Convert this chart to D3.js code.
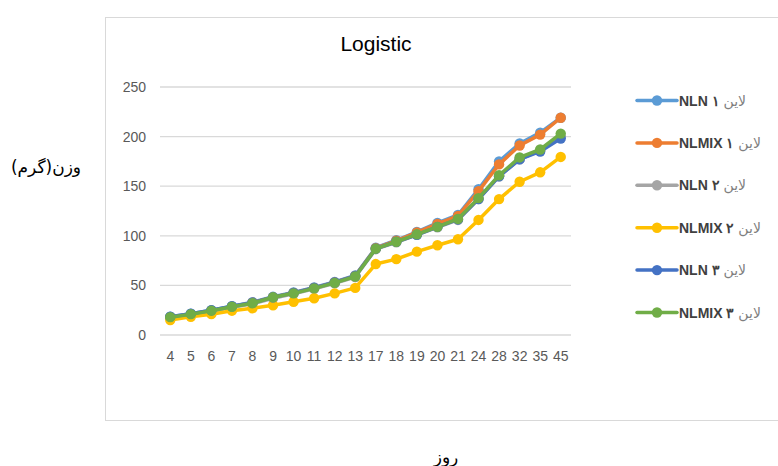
<!DOCTYPE html>
<html>
<head>
<meta charset="utf-8">
<script src="https://cdn.jsdelivr.net/npm/d3@7"></script>
<style>
  body { margin: 0; background: #fff; }
  text { font-family: "Liberation Sans", Arial, sans-serif; }
</style>
</head>
<body>
<div id="chart"></div>
<script>
// days (x categories)
const days = ["4","5","6","7","8","9","10","11","12","13","17","18","19","20","21","24","28","32","35","45"];

// series values
const nln1    = [18.5,21.5,25,29,33,38.5,43,48,53.5,60,88,95.5,104,113,121,147,175,193,204,219];
const nlmix1  = [18,21,24.5,28.5,32.5,38,42.5,47.5,53,59.5,87.5,95,103.5,112,120,145,172,191,202,219];
const nln2    = [17.5,20.5,24,28,31.5,37,41.5,46.5,52,58.5,86.5,93.5,101,108.5,116,137,160,177,186,200];
const nlmix2  = [15,18.4,21,24.5,27,30,33.5,37,42,47.5,71.5,76.5,84,90.5,96.5,116,137,154.5,164,179.5];
const nln3    = [18.5,21.5,25,29,32.5,38,42.5,47.5,53,59.5,87,94,101,109,116.5,137,160,177,185,198];
const nlmix3  = [18,21,24.5,28.5,32,38,42,47,52.5,59,87,94,101.5,109,117,138,161,179,187,203];

const seriesNames = ["NLN ۱  ", "NLMIX ۱ ", "NLN  ۲ ", "NLMIX ۲ ", "NLN ۳ ", "NLMIX ۳ "];
const seriesValues = [nln1, nlmix1, nln2, nlmix2, nln3, nlmix3];
const colors = ["#5B9BD5", "#ED7D31", "#A5A5A5", "#FFC000", "#4472C4", "#70AD47"];
const yTicks = [0, 50, 100, 150, 200, 250];

const width = 778, height = 466;
const plot = { left: 160, right: 571, top: 87, bottom: 335 };

const svg = d3.select("#chart").append("svg")
  .attr("width", width)
  .attr("height", height);

// chart frame
svg.append("rect")
  .attr("x", 105.5).attr("y", 17.5)
  .attr("width", 700).attr("height", 403)
  .attr("fill", "none")
  .attr("stroke", "#d9d9d9");

const x = d3.scaleBand().domain(days).range([plot.left, plot.right]);
const y = d3.scaleLinear().domain([0, 250]).range([plot.bottom, plot.top]);

// gridlines
svg.append("g")
  .selectAll("line")
  .data(yTicks)
  .enter().append("line")
  .attr("x1", plot.left).attr("x2", plot.right)
  .attr("y1", d => y(d)).attr("y2", d => y(d))
  .attr("stroke", "#d9d9d9")
  .attr("stroke-width", 1.3);

// y axis labels
const yAxis = svg.append("g")
  .attr("transform", `translate(${plot.left - 14},0)`)
  .call(d3.axisLeft(y).tickValues(yTicks).tickSize(0).tickPadding(0));
yAxis.select(".domain").remove();
yAxis.selectAll("text")
  .attr("fill", "#595959")
  .style("font-size", "14px");

// x axis labels
const xAxis = svg.append("g")
  .attr("transform", `translate(0,${plot.bottom + 16})`)
  .call(d3.axisBottom(x).tickSize(0).tickPadding(0));
xAxis.select(".domain").remove();
xAxis.selectAll("text")
  .attr("fill", "#595959")
  .style("font-size", "14px");

// lines and markers
const line = d3.line()
  .x((d, i) => x(days[i]) + x.bandwidth() / 2)
  .y(d => y(d));

seriesValues.forEach((vals, s) => {
  const g = svg.append("g");
  g.append("path")
    .datum(vals)
    .attr("fill", "none")
    .attr("stroke", colors[s])
    .attr("stroke-width", 3.5)
    .attr("stroke-linejoin", "round")
    .attr("d", line);
  g.selectAll("circle")
    .data(vals)
    .enter().append("circle")
    .attr("cx", (d, i) => x(days[i]) + x.bandwidth() / 2)
    .attr("cy", d => y(d))
    .attr("r", 5.2)
    .attr("fill", colors[s]);
});

// title
svg.append("text")
  .attr("x", 376).attr("y", 51)
  .attr("text-anchor", "middle")
  .style("font-size", "21px")
  .attr("fill", "#000")
  .text("Logistic");

// axis titles
svg.append("text")
  .attr("x", 46).attr("y", 173)
  .attr("text-anchor", "middle")
  .style("font-family", "'DejaVu Sans', sans-serif")
  .style("font-size", "17px")
  .attr("fill", "#000")
  .text("وزن(گرم)");

svg.append("text")
  .attr("x", 446).attr("y", 463)
  .attr("text-anchor", "middle")
  .style("font-family", "'DejaVu Sans', sans-serif")
  .style("font-size", "17px")
  .attr("fill", "#000")
  .text("روز");

// legend
const legend = svg.append("g")
  .selectAll("g")
  .data(seriesNames)
  .enter().append("g")
  .attr("transform", (d, i) => `translate(637,${100.5 + i * 42.4})`);

legend.append("line")
  .attr("x1", 0).attr("x2", 40)
  .attr("stroke", (d, i) => colors[i])
  .attr("stroke-width", 3.5)
  .attr("stroke-linecap", "round");
legend.append("circle")
  .attr("cx", 20).attr("r", 5.2)
  .attr("fill", (d, i) => colors[i]);

const lt = legend.append("text")
  .attr("x", 42).attr("y", 5)
  .style("font-size", "14px")
  .attr("fill", "#404040");
lt.append("tspan").style("font-weight", "bold").text(d => d);
lt.append("tspan").attr("fill", "#7f7f7f").style("font-size", "14px")
  .style("font-family", "'DejaVu Sans', sans-serif").text("لاین");
</script>
</body>
</html>
